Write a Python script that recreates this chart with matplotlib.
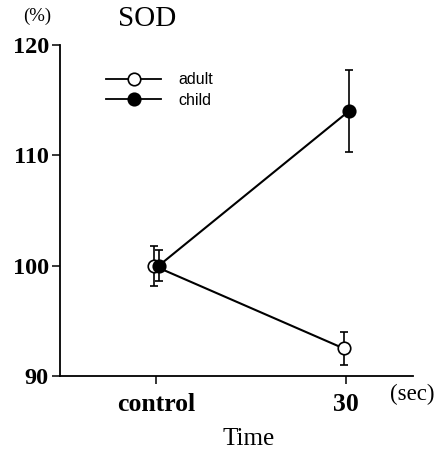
import matplotlib
matplotlib.use("Agg")
import matplotlib.pyplot as plt
from matplotlib.lines import Line2D

categories = ["control", "30"]
adult_mean = [100.0, 92.5]
adult_err = [1.8, 1.5]
child_mean = [100.0, 114.0]
child_err = [1.4, 3.7]
y_ticks = [90, 100, 110, 120]

fig = plt.figure(figsize=(4.4, 4.55), dpi=100)
ax = fig.add_axes([60/440, 1-376/455, (413-60)/440, (376-45)/455])

x = list(range(len(categories)))
xa = [v - 0.012 for v in x]
xc = [v + 0.015 for v in x]

ax.errorbar(xa, adult_mean, yerr=adult_err, color="black", lw=1.5, capsize=3.2,
            capthick=1.2, elinewidth=1.2, marker="o", ms=9, mfc="white", mec="black",
            mew=1.2, zorder=3)
ax.errorbar(xc, child_mean, yerr=child_err, color="black", lw=1.5, capsize=3.2,
            capthick=1.2, elinewidth=1.2, marker="o", ms=9, mfc="black", mec="black",
            mew=1.2, zorder=4)

ax.set_xlim(-0.505, 1.353)
ax.set_ylim(90, 120)
ax.set_yticks(y_ticks)
ax.set_yticklabels([str(t) for t in y_ticks], fontfamily="Liberation Serif",
                   fontweight="bold", fontsize=17.5)
ax.set_xticks(x)
ax.set_xticklabels(categories, fontfamily="Liberation Serif", fontweight="bold", fontsize=18.5)
ax.tick_params(axis="y", direction="out", length=6, width=1.1, pad=2)
ax.tick_params(axis="x", direction="out", length=6, width=1.1, pad=6)
for s in ["top", "right"]:
    ax.spines[s].set_visible(False)
for s in ["left", "bottom"]:
    ax.spines[s].set_linewidth(1.3)

fig.text(390/440, 1-394/455, "(sec)", fontfamily="Liberation Serif", fontsize=16.5,
         ha="left", va="center")
fig.text(249/440, 1-439/455, "Time", fontfamily="Liberation Serif", fontsize=18,
         ha="center", va="center")
fig.text(147/440, 1-19/455, "SOD", fontfamily="Liberation Serif", fontsize=21,
         ha="center", va="center")
fig.text(37/440, 1-16/455, "(%)", fontfamily="Liberation Serif", fontsize=13.5,
         ha="center", va="center")

h1 = Line2D([], [], color="black", lw=1.3, marker="o", ms=9, mfc="white", mec="black", mew=1.2)
h2 = Line2D([], [], color="black", lw=1.3, marker="o", ms=9, mfc="black", mec="black", mew=1.2)
leg = fig.legend([h1, h2], ["adult", "child"], loc="center left",
                 bbox_to_anchor=(92/440, 1-90/455), frameon=False,
                 prop={"family": "Liberation Sans", "size": 11.5},
                 handlelength=3.4, handletextpad=1.1, labelspacing=0.35)

fig.savefig("out.png", dpi=100)
